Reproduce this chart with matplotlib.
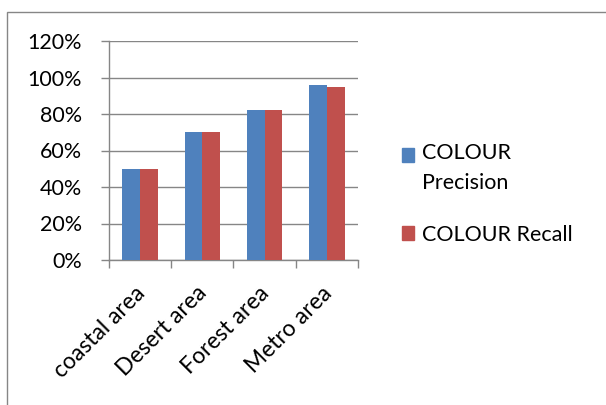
import matplotlib.pyplot as plt
import matplotlib.ticker as tick
import matplotlib.transforms as mtransforms
from matplotlib.patches import Rectangle
import numpy as np

plt.rcParams['font.family'] = ['Lato', 'DejaVu Sans']

categories = ["coastal area", "Desert area", "Forest area", "Metro area"]
precision = [50, 70, 82, 96]
recall = [50, 70, 82, 95]
series_names = ["COLOUR\nPrecision", "COLOUR Recall"]
colors = ["#4F81BD", "#C0504D"]
y_ticks = [0, 20, 40, 60, 80, 100, 120]

W, H = 606, 405
FS = 15.5
fig = plt.figure(figsize=(W / 100, H / 100), dpi=100)

# outer chart border, running off the right and bottom edges
fig.add_artist(Rectangle((7 / W, -0.05), 1.2, 1 - 12 / H + 0.05,
                         transform=fig.transFigure, fill=False,
                         edgecolor="#868686", linewidth=1.0))

ax = fig.add_axes([109 / W, 1 - 260 / H, 249 / W, 219 / H])

x = np.arange(len(categories))
width = 0.285
ax.bar(x - width / 2, precision, width, color=colors[0], zorder=3)
ax.bar(x + width / 2, recall, width, color=colors[1], zorder=3)

ax.set_xlim(-0.5, len(categories) - 0.5)
ax.set_ylim(0, 120)

# horizontal gridlines, axis lines in grey
ax.set_yticks(y_ticks)
ax.set_yticklabels([f"{v}%" for v in y_ticks], fontsize=FS)
ax.yaxis.grid(True, color="#868686", linewidth=1.0, zorder=0)
for side in ["top", "right"]:
    ax.spines[side].set_visible(False)
for side in ["left", "bottom"]:
    ax.spines[side].set_color("#868686")
    ax.spines[side].set_linewidth(1.0)

ax.tick_params(axis="y", length=6, color="#868686", width=1.0, pad=13.5)
ax.tick_params(axis="x", length=6, color="#868686", width=1.0, which="major")

# category ticks sit between the groups, labels at group centres
ax.xaxis.set_major_locator(tick.FixedLocator(np.arange(-0.5, len(categories), 1)))
ax.xaxis.set_major_formatter(tick.NullFormatter())
ax.xaxis.set_minor_locator(tick.FixedLocator(x))
ax.xaxis.set_minor_formatter(tick.FixedFormatter(categories))
ax.tick_params(axis="x", which="minor", length=0, pad=16)
shift = mtransforms.ScaledTranslation(-6 / 100, 0, fig.dpi_scale_trans)
for lbl in ax.xaxis.get_minorticklabels():
    lbl.set_rotation(45)
    lbl.set_ha("right")
    lbl.set_va("top")
    lbl.set_rotation_mode("anchor")
    lbl.set_fontsize(16.5)
    lbl.set_transform(lbl.get_transform() + shift)

# legend drawn by hand so the swatch lines up with the first text line
legend_rows = [155, 233]
text_tops = [143, 225]
for name, col, yc, yt in zip(series_names, colors, legend_rows, text_tops):
    fig.add_artist(Rectangle((402 / W, 1 - (yc + 7) / H), 12 / W, 14 / H,
                             transform=fig.transFigure, color=col))
    fig.text(422 / W, 1 - yt / H, name, fontsize=FS, va="top",
             ha="left", linespacing=1.6)

fig.savefig("out.png", dpi=100)
